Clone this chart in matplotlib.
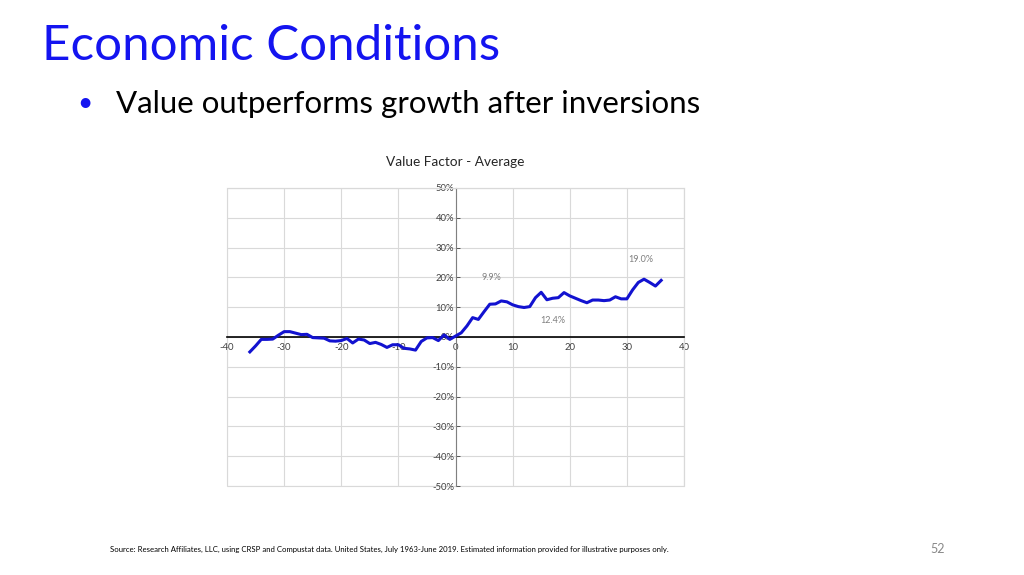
import numpy as np
import matplotlib.pyplot as plt
from matplotlib.ticker import FuncFormatter

# months relative to the curve inversion
months = list(range(-36, 37))
value_factor = [
    -5.0, -3.0, -0.8, -0.8, -0.7, 0.6, 1.8, 1.8, 1.3, 0.8, 0.9, -0.2,
    -0.3, -0.4, -1.3, -1.4, -1.2, -0.5, -2.0, -0.7, -1.0, -2.2, -1.8, -2.5,
    -3.5, -2.6, -2.6, -3.8, -4.0, -4.4, -1.5, -0.3, -0.2, -1.2, 0.7, -0.8,
    0.3, 1.4, 3.7, 6.5, 5.9, 8.5, 11.0, 11.1, 12.1, 11.8, 10.8, 10.2,
    9.9, 10.2, 13.2, 15.0, 12.5, 13.0, 13.2, 14.9, 13.8, 13.0, 12.2, 11.5,
    12.4, 12.4, 12.2, 12.4, 13.5, 12.8, 12.8, 15.8, 18.3, 19.4, 18.3, 17.1,
    19.0,
]
# data labels: (text, x, y) in data units
labels = [("9.9%", 6.2, 20.0), ("12.4%", 17.0, 5.7), ("19.0%", 32.5, 26.0)]

plt.rcParams['font.family'] = ['Lato', 'DejaVu Sans']

fig = plt.figure(figsize=(10.24, 5.75), dpi=100)
fig.patch.set_facecolor('white')

fig.text(42 / 1024, 1 - 46 / 575, "Economic Conditions", color='#1414f0',
         fontsize=35.5, va='center', ha='left')
fig.text(85 / 1024, 1 - 103 / 575, "\u2022", color='#1414f0',
         fontsize=19, va='center', ha='center')
fig.text(116 / 1024, 1 - 104 / 575, "Value outperforms growth after inversions",
         color='black', fontsize=22.5, va='center', ha='left')
fig.text(110 / 1024, 1 - 549 / 575,
         "Source: Research Affiliates, LLC, using CRSP and Compustat data. United States, "
         "July 1963-June 2019. Estimated information provided for illustrative purposes only.",
         fontsize=5.6, va='center', ha='left', color='black')
fig.text(945 / 1024, 1 - 549 / 575, "52", fontsize=9, color='#888888',
         va='center', ha='right')

ax = fig.add_axes([227 / 1024, 1 - 486 / 575, 457 / 1024, 298 / 575])
ax.plot(months, value_factor, color='#1212d0', lw=2.2, zorder=3)

ax.set_xlim(-40, 40)
ax.set_ylim(-50, 50)
ax.set_xticks(range(-40, 41, 10))
ax.set_yticks(range(-50, 51, 10))
ax.xaxis.set_major_formatter(FuncFormatter(lambda v, p: f"{v:.0f}"))
ax.yaxis.set_major_formatter(FuncFormatter(lambda v, p: f"{v:.0f}%"))

ax.grid(True, color='#d9d9d9', lw=0.8)
ax.set_axisbelow(True)

for s in ['top', 'right']:
    ax.spines[s].set_color('#d9d9d9')
    ax.spines[s].set_linewidth(0.8)
ax.spines['left'].set_position(('data', 0))
ax.spines['left'].set_color('#808080')
ax.spines['bottom'].set_position(('data', 0))
ax.spines['bottom'].set_color('black')
ax.spines['bottom'].set_linewidth(1.2)

ax.tick_params(axis='both', labelsize=6.8, colors='#404040', width=0.6)
ax.tick_params(axis='x', length=0, pad=4.5)
ax.tick_params(axis='y', direction='in', length=3, pad=1)

# outer box in gray
ax.add_patch(plt.Rectangle((0, 0), 1, 1, transform=ax.transAxes, fill=False,
                           edgecolor='#d9d9d9', lw=0.8, zorder=0, clip_on=False))

for txt, x, y in labels:
    ax.text(x, y, txt, fontsize=6.5, color='#7f7f7f', ha='center', va='center')

ax.set_title("Value Factor - Average", fontsize=9.8, color='#262626', pad=16)

fig.savefig("out.png", dpi=100, facecolor='white')
